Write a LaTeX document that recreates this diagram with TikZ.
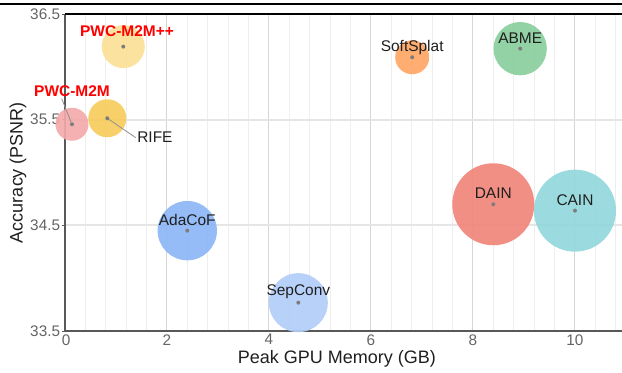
\documentclass[tikz,border=0pt]{standalone}
\usepackage{fontspec}
\setmainfont{Liberation Sans}
\usepackage{xcolor}
\definecolor{m2mpp}{RGB}{251,224,150}
\definecolor{m2m}{RGB}{244,170,170}
\definecolor{rife}{RGB}{247,204,92}
\definecolor{softsplat}{RGB}{255,166,100}
\definecolor{abme}{RGB}{137,206,157}
\definecolor{adacof}{RGB}{140,182,246}
\definecolor{sepconv}{RGB}{178,205,249}
\definecolor{dain}{RGB}{241,133,123}
\definecolor{cain}{RGB}{146,215,219}
\definecolor{gridmajor}{RGB}{214,214,214}
\definecolor{gridminor}{RGB}{238,238,238}
\definecolor{gridhoriz}{RGB}{229,229,229}
\definecolor{axisgray}{RGB}{88,88,88}
\definecolor{ticktext}{RGB}{100,100,100}
\definecolor{dotgray}{RGB}{125,125,125}
\tikzstyle{bubble}=[circle, inner sep=0pt, fill opacity=.92]
\tikzset{centre/.style={circle, inner sep=0pt, minimum size=3pt, fill=dotgray}}
\tikzset{method/.style={font=\fontsize{11.6}{13}\selectfont, text=black!88, inner sep=1pt}}
\tikzset{ours/.style={method, font=\fontsize{11.6}{13}\selectfont\bfseries, text=red}}
\tikzset{onbubble/.style={method, anchor=base, yshift=4pt}}
\tikzset{leader/.style={draw=dotgray!85, line width=.6pt}}
\tikzset{ticknum/.style={font=\fontsize{11.5}{13}\selectfont, text=ticktext, inner sep=1pt}}
\tikzset{axistitle/.style={font=\fontsize{13.5}{15}\selectfont, text=black!88, inner sep=0pt}}

\begin{document}
\begin{tikzpicture}[x=38.25pt, y=79.275pt]
  \useasboundingbox (-1.2745,33.1036) rectangle (10.922,36.6325);

  %% Grid
  \foreach \i in {1,...,27}
    \draw[gridminor, line width=.75pt] (0.4*\i,33.5) -- (0.4*\i,36.5);
  \foreach \gx in {2,4,6,8,10}
    \draw[gridmajor, line width=.75pt] (\gx,33.5) -- (\gx,36.5);
  \draw[gridhoriz, line width=1.4pt] (0,34.5) -- (10.922,34.5);
  \draw[gridhoriz, line width=1.4pt] (0,35.5) -- (10.922,35.5);

  %% Axes and frame
  \draw[axisgray, line width=1pt] (0,33.5) -- (0,36.5);
  \draw[axisgray, line width=1.1pt] (0,33.5) -- (10.922,33.5);
  \draw[line width=1.2pt] (0,36.5) -- (10.922,36.5);
  \draw[line width=1.5pt] (-1.2745,36.5974) -- (10.922,36.5974);
  \draw[axisgray, line width=.6pt] (-0.06,33.5) -- (0,33.5);
  \draw[axisgray, line width=.6pt] (-0.06,34.5) -- (0,34.5);
  \draw[axisgray, line width=.6pt] (-0.06,35.5) -- (0,35.5);
  \draw[axisgray, line width=.6pt] (-0.06,36.5) -- (0,36.5);

  %% Tick labels
  \draw (-0.065,33.5) node[ticknum, anchor=east] (Y335) {33.5};
  \draw (-0.065,34.5) node[ticknum, anchor=east] (Y345) {34.5};
  \draw (-0.065,35.5) node[ticknum, anchor=east] (Y355) {35.5};
  \draw (-0.065,36.5) node[ticknum, anchor=east] (Y365) {36.5};
  \draw (0.02,33.5) node[ticknum, anchor=north, yshift=-1.3pt] (X0) {0};
  \draw (2,33.5) node[ticknum, anchor=north, yshift=-1.3pt] (X2) {2};
  \draw (4,33.5) node[ticknum, anchor=north, yshift=-1.3pt] (X4) {4};
  \draw (6,33.5) node[ticknum, anchor=north, yshift=-1.3pt] (X6) {6};
  \draw (8,33.5) node[ticknum, anchor=north, yshift=-1.3pt] (X8) {8};
  \draw (10,33.5) node[ticknum, anchor=north, yshift=-1.3pt] (X10) {10};

  %% Axis titles
  \draw (5.333,33.1934) node[axistitle, anchor=base] (XT) {Peak GPU Memory (GB)};
  \draw (-0.92,35.0) node[axistitle, rotate=90] (YT) {Accuracy (PSNR)};

  %% Bubbles
  \draw (1.143,36.191) node[bubble, fill=m2mpp, minimum size=32.25pt] (M2MPP) {};
  \draw (0.137,35.4565) node[bubble, fill=m2m, minimum size=24.75pt] (M2M) {};
  \draw (0.829,35.5132) node[bubble, fill=rife, minimum size=28.5pt] (RIFE) {};
  \draw (6.808,36.0904) node[bubble, fill=softsplat, minimum size=25.5pt] (SOFT) {};
  \draw (8.925,36.1717) node[bubble, fill=abme, minimum size=40pt] (ABME) {};
  \draw (2.398,34.4498) node[bubble, fill=adacof, minimum size=44.5pt] (ADA) {};
  \draw (4.575,33.7687) node[bubble, fill=sepconv, minimum size=44.25pt] (SEP) {};
  \draw (8.398,34.6996) node[bubble, fill=dain, minimum size=61.5pt] (DAIN) {};
  \draw (10.0,34.6391) node[bubble, fill=cain, minimum size=61.5pt] (CAIN) {};

  %% Centre dots
  \draw (M2MPP.center) node[centre] (M2MPPd) {};
  \draw (M2M.center) node[centre] (M2Md) {};
  \draw (RIFE.center) node[centre] (RIFEd) {};
  \draw (SOFT.center) node[centre] (SOFTd) {};
  \draw (ABME.center) node[centre] (ABMEd) {};
  \draw (ADA.center) node[centre] (ADAd) {};
  \draw (SEP.center) node[centre] (SEPd) {};
  \draw (DAIN.center) node[centre] (DAINd) {};
  \draw (CAIN.center) node[centre] (CAINd) {};

  %% Labels
  \draw (1.216,36.2824) node[ours, anchor=base] (M2MPPl) {PWC-M2M++};
  \draw (0.137,35.7148) node[ours, anchor=base] (M2Ml) {PWC-M2M};
  \draw (1.386,35.2796) node[method, anchor=base west] (RIFEl) {RIFE};
  \draw (SOFT.center) node[onbubble] (SOFTl) {SoftSplat};
  \draw (ABME.center) node[onbubble] (ABMEl) {ABME};
  \draw (ADA.center) node[onbubble] (ADAl) {AdaCoF};
  \draw (SEP.center) node[onbubble, yshift=1.5pt] (SEPl) {SepConv};
  \draw (DAIN.center) node[onbubble] (DAINl) {DAIN};
  \draw (CAIN.center) node[onbubble] (CAINl) {CAIN};

  \draw[leader] ([xshift=-7.7pt]M2Ml.south) -- (M2Md);
  \draw[leader] (RIFEd) -- (RIFEl.west);
\end{tikzpicture}
\end{document}
